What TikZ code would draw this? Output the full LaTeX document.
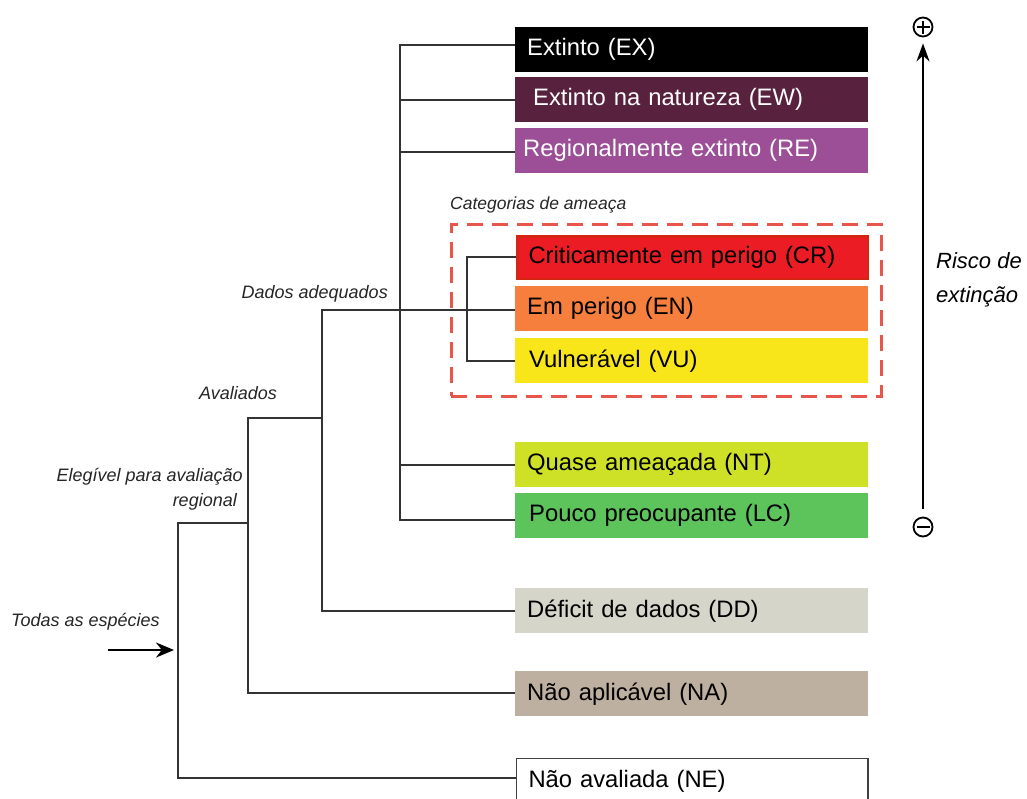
\documentclass[tikz,border=0pt]{standalone}
\usepackage{fontspec}
\setmainfont{Liberation Sans}
\usetikzlibrary{arrows.meta}
\definecolor{cEX}{HTML}{000000}
\definecolor{cEW}{HTML}{58223F}
\definecolor{cRE}{HTML}{9C4F96}
\definecolor{cCR}{HTML}{EC1C24}
\definecolor{cCRb}{HTML}{D42412}
\definecolor{cEN}{HTML}{F77F3E}
\definecolor{cVU}{HTML}{F8E51A}
\definecolor{cNT}{HTML}{CEE127}
\definecolor{cLC}{HTML}{5DC35B}
\definecolor{cDD}{HTML}{D5D5C9}
\definecolor{cNA}{HTML}{BEB0A0}
\definecolor{cdash}{HTML}{E8554B}
\definecolor{cline}{HTML}{333333}
\tikzset{
  cat/.style={rectangle, anchor=north west, text width=329pt, inner xsep=12pt, inner ysep=0pt,
    minimum height=45pt, align=left, font=\fontsize{23.8}{26}\selectfont, text=black},
  lbl/.style={font=\itshape\fontsize{18}{25}\selectfont, text=black!85, inner sep=0pt},
  tree/.style={draw=cline, line width=2pt},
  sym/.style={circle, draw=black, line width=1.8pt, minimum size=19pt, inner sep=0pt},
}
\begin{document}
\begin{tikzpicture}[x=1pt,y=-1pt]
\useasboundingbox[fill=white] (0,0) rectangle (1027,798);
\clip (0,0) rectangle (1027,798);

% category boxes
\node[cat, fill=cEX, text=white] (ex) at (515,27) {Extinto (EX)};
\node[cat, fill=cEW, text=white] (ew) at (515,77) {\hspace*{6pt}Extinto na natureza (EW)};
\node[cat, fill=cRE, text=white] (re) at (515,128) {\hspace*{-4pt}Regionalmente extinto (RE)};
\node[cat, fill=cCR, draw=cCRb, line width=2.5pt, text width=326.5pt, minimum height=42.5pt] (cr) at (516.25,235.25) {\hspace*{-1pt}Criticamente em perigo (CR)};
\node[cat, fill=cEN] (en) at (515,286) {Em perigo (EN)};
\node[cat, fill=cVU] (vu) at (515,338) {\hspace*{2pt}Vulnerável (VU)};
\node[cat, fill=cNT] (nt) at (515,442) {Quase ameaçada (NT)};
\node[cat, fill=cLC] (lc) at (515,493) {\hspace*{2pt}Pouco preocupante (LC)};
\node[cat, fill=cDD] (dd) at (515,588) {Déficit de dados (DD)};
\node[cat, fill=white, fill=cNA] (na) at (515,671) {Não aplicável (NA)};
\node[cat, fill=white, draw=black!75, line width=1.5pt, text width=327.5pt] (ne) at (515.75,757.75) {Não avaliada (NE)};

% dashed threat box
\node[draw=cdash, dashed, dash pattern=on 16pt off 9pt, line width=2.5pt, rectangle,
      anchor=north west, minimum width=430pt, minimum height=172pt, inner sep=0pt] (threat) at (450,223) {};
\node[lbl, anchor=west, font=\itshape\fontsize{17.5}{25}\selectfont] (catlbl) at (450,205) {Categorias de ameaça};

% tree coordinates
\coordinate (j1) at (400,45);
\coordinate (j2) at (400,520);
\coordinate (k1) at (467,257);
\coordinate (k2) at (467,361);
\coordinate (d1) at (322,310);
\coordinate (d2) at (322,611);
\coordinate (a1) at (248,418);
\coordinate (a2) at (248,693);
\coordinate (e1) at (178,523);
\coordinate (e2) at (178,778);
\coordinate (arrstart) at (108,650);
\coordinate (arrend) at (174,650);

% tree lines
\draw[tree] (ex.west |- j1) -- (j1) -- (j2) -- (lc.west |- j2);
\draw[tree] (400,100) -- (ew.west |- 0,100);
\draw[tree] (400,152) -- (re.west |- 0,152);
\draw[tree] (400,465) -- (nt.west |- 0,465);
\draw[tree] (cr.west |- k1) -- (k1) -- (k2) -- (vu.west |- k2);
\draw[tree] (dd.west |- d2) -- (d2) -- (d1) -- (en.west |- d1);
\draw[tree] (d1 |- a1) -- (a1) -- (a2) -- (na.west |- a2);
\draw[tree] (a1 |- e1) -- (e1) -- (e2) -- (ne.west |- e2);
\draw[line width=2.4pt, -{Stealth[length=18pt,width=15pt]}] (arrstart) -- (arrend);

% labels
\node[lbl, anchor=east] (dados) at (388,294) {Dados adequados};
\node[lbl, anchor=east] (aval) at (277,393) {Avaliados};
\node[lbl, anchor=east, align=right] (eleg) at (243,489) {Elegível para avaliação\\regional\hspace*{6pt}};
\node[lbl, anchor=west] (todas) at (11,622) {Todas as espécies};

% risk axis
\node[sym] (plus) at (923,27) {};
\draw[line width=1.8pt] ([xshift=-6.5pt]plus.center) -- ([xshift=6.5pt]plus.center)
      ([yshift=-6.5pt]plus.center) -- ([yshift=6.5pt]plus.center);
\node[sym] (minus) at (923,527) {};
\draw[line width=1.8pt] ([xshift=-6.5pt]minus.center) -- ([xshift=6.5pt]minus.center);
\draw[line width=2.2pt, -{Stealth[length=18pt,width=13pt]}, shorten <=8pt, shorten >=6pt] (minus.north) -- (plus.south);
\node[font=\itshape\fontsize{22}{34}\selectfont, anchor=west, align=left, inner sep=0pt] (risco) at (936,280) {Risco de\\extinção};
\end{tikzpicture}
\end{document}
